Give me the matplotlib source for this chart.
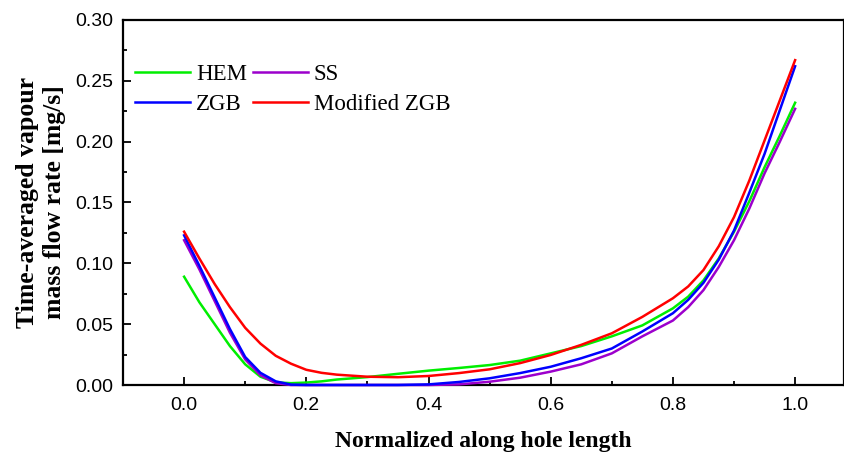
import matplotlib
matplotlib.use("Agg")
import matplotlib.pyplot as plt
from matplotlib.ticker import MultipleLocator

# values
x_pos = [0.0, 0.025, 0.05, 0.075, 0.1, 0.125, 0.15, 0.175, 0.2, 0.225,
         0.25, 0.3, 0.35, 0.4, 0.45, 0.5, 0.55, 0.6, 0.65, 0.7,
         0.75, 0.8, 0.825, 0.85, 0.875, 0.9, 0.925, 0.95, 0.975, 1.0]

hem = [0.089, 0.068, 0.050, 0.032, 0.017, 0.0068, 0.0022, 0.0015, 0.002, 0.003,
       0.0045, 0.0065, 0.0092, 0.0118, 0.014, 0.0164, 0.020, 0.026, 0.032, 0.040,
       0.049, 0.063, 0.0726, 0.086, 0.104, 0.126, 0.151, 0.179, 0.205, 0.232]
ss = [0.119, 0.095, 0.069, 0.043, 0.021, 0.008, 0.0015, 0.0, 0.0, 0.0,
      0.0, 0.0, 0.0, 0.0, 0.0005, 0.0027, 0.006, 0.011, 0.017, 0.026,
      0.040, 0.053, 0.064, 0.078, 0.097, 0.119, 0.145, 0.174, 0.200, 0.227]
zgb = [0.123, 0.098, 0.072, 0.046, 0.023, 0.010, 0.003, 0.0003, 0.0, 0.0,
       0.0, 0.0, 0.0, 0.0005, 0.0025, 0.0055, 0.0098, 0.015, 0.022, 0.030,
       0.044, 0.059, 0.070, 0.084, 0.103, 0.127, 0.158, 0.190, 0.226, 0.262]
mod_zgb = [0.126, 0.104, 0.083, 0.064, 0.047, 0.034, 0.024, 0.0175, 0.0125, 0.010,
           0.0085, 0.0068, 0.0064, 0.0074, 0.0098, 0.0129, 0.018, 0.0247, 0.033, 0.0425,
           0.056, 0.0713, 0.081, 0.0945, 0.114, 0.138, 0.168, 0.201, 0.234, 0.267]

series = [
    ("HEM", hem, "#00ee00"),
    ("SS", ss, "#9c00cc"),
    ("ZGB", zgb, "#0000ff"),
    ("Modified ZGB", mod_zgb, "#ff0000"),
]

fig = plt.figure(figsize=(8.44, 4.59), dpi=100)
ax = fig.add_axes([123 / 844, 1 - 385 / 459, 1 - 123 / 844, (385 - 20) / 459])

for label, vals, col in series:
    ax.plot(x_pos, vals, color=col, lw=1.8, label=label, clip_on=False, zorder=3)

ax.set_xlim(-0.1, 1.08)
ax.set_ylim(0, 0.30)
ax.xaxis.set_major_locator(MultipleLocator(0.2))
ax.xaxis.set_minor_locator(MultipleLocator(0.1))
ax.yaxis.set_major_locator(MultipleLocator(0.05))
ax.yaxis.set_minor_locator(MultipleLocator(0.025))
ax.tick_params(which="both", direction="in", width=1.3, labelsize=14,
               labelfontfamily="Liberation Sans")
ax.tick_params(which="major", length=6)
ax.tick_params(which="minor", length=3)
ax.tick_params(axis="y", pad=7)
ax.tick_params(axis="x", pad=9)
ax.yaxis.set_major_formatter(plt.FormatStrFormatter("%.2f"))
ax.xaxis.set_major_formatter(plt.FormatStrFormatter("%.1f"))
for s in ax.spines.values():
    s.set_linewidth(1.6)

ax.set_xlabel("Normalized along hole length", fontfamily="Liberation Serif",
              fontweight="bold", fontsize=17, labelpad=12)
ax.set_ylabel("Time-averaged vapour\nmass flow rate [mg/s]", fontfamily="Liberation Serif",
              fontweight="bold", fontsize=18.5, labelpad=7, linespacing=1.22)

order = [0, 2, 1, 3]
h, l = ax.get_legend_handles_labels()
ax.legend([h[i] for i in order], [l[i] for i in order], ncol=2, frameon=False,
          loc="upper left", bbox_to_anchor=(0.0166, 0.879), borderaxespad=0,
          borderpad=0, handlelength=2.4, handletextpad=0.26, columnspacing=0.26,
          labelspacing=0.38, prop={"family": "Liberation Serif", "size": 16.5})

fig.savefig("out.png", dpi=100)
